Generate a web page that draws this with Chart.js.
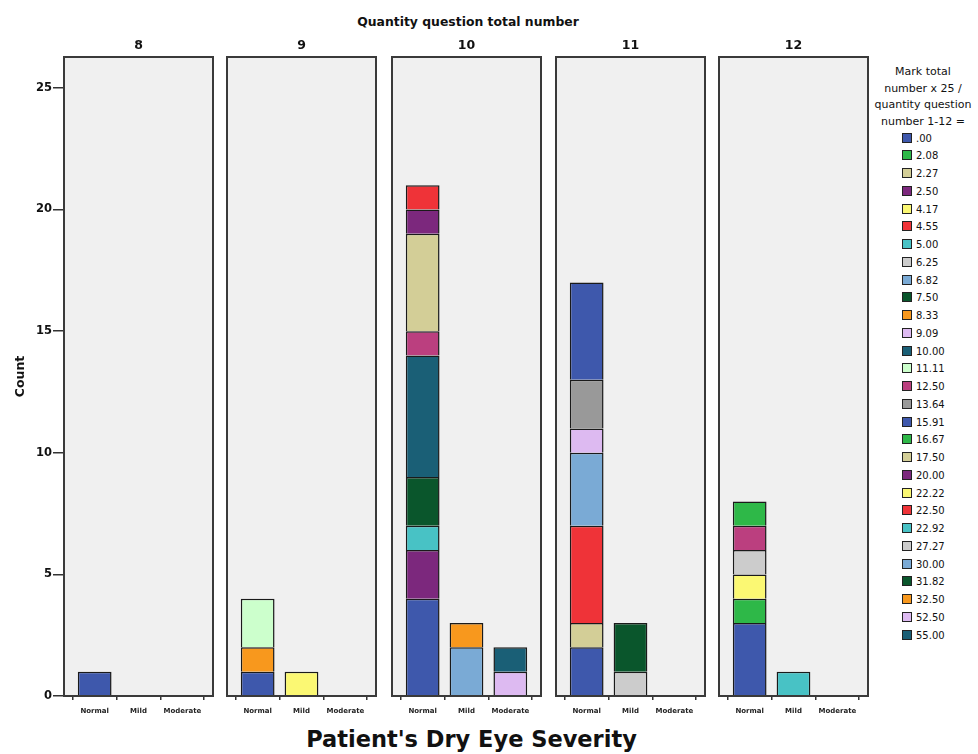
<!DOCTYPE html>
<html>
<head>
<meta charset="utf-8">
<script src="https://cdn.jsdelivr.net/npm/chart.js@4.4.0/dist/chart.umd.min.js"></script>
<style>
  body { margin:0; background:#fff; width:978px; height:754px; position:relative; overflow:hidden; font-family:'DejaVu Sans', sans-serif; color:#111; }
  .panel { position:absolute; top:30px; }
  #mainTitle { position:absolute; left:0; width:936px; top:14px; text-align:center; font-weight:bold; font-size:12.4px; }
  #xTitle { position:absolute; left:0; width:943px; top:726px; text-align:center; font-weight:bold; font-size:22.5px; }
  #legTitle { position:absolute; left:868px; width:110px; top:64px; text-align:center; font-size:11px; line-height:16.5px; }
  #legend { position:absolute; left:902px; top:129.6px; font-size:10px; line-height:17.76px; }
  #legend div { height:17.76px; white-space:nowrap; }
  #legend span.box { display:inline-block; width:8px; height:8px; border:1px solid #222; vertical-align:middle; margin-right:4px; position:relative; top:-1px; }
</style>
</head>
<body>
<div id="mainTitle">Quantity question total number</div>
<div id="legTitle">Mark total<br>number x 25 /<br>quantity question<br>number 1-12 =</div>
<div id="legend"></div>
<div id="xTitle">Patient's Dry Eye Severity</div>

<script>
// facets and categories
const questionTotals = [8, 9, 10, 11, 12];
const severity = ['Normal', 'Mild', 'Moderate'];
const yTicks = [0, 5, 10, 15, 20, 25];

// legend values and their colours
const markValues = ['.00','2.08','2.27','2.50','4.17','4.55','5.00','6.25','6.82','7.50','8.33','9.09','10.00','11.11',
  '12.50','13.64','15.91','16.67','17.50','20.00','22.22','22.50','22.92','27.27','30.00','31.82','32.50','52.50','55.00'];
const markColors = ['#3e58ac','#2eb848','#d3ce97','#7c287d','#fbf873','#ef3338','#48c2c5','#cccccc','#7aaad5','#0a562c',
  '#f8981d','#ddbaf1','#1a5f76','#ccffcc','#bb3f7f','#999999','#3e58ac','#2eb848','#d3ce97','#7c287d',
  '#fbf873','#ef3338','#48c2c5','#cccccc','#7aaad5','#0a562c','#f8981d','#ddbaf1','#1a5f76'];

// counts per panel: [mark value, Normal, Mild, Moderate]
const counts8 = [['.00',1,0,0]];
const counts9 = [['.00',1,0,0],['8.33',1,0,0],['11.11',2,0,0],['22.22',0,1,0]];
const counts10 = [['.00',4,0,0],['2.50',2,0,0],['5.00',1,0,0],['7.50',2,0,0],['10.00',5,0,0],['12.50',1,0,0],
  ['17.50',4,0,0],['20.00',1,0,0],['22.50',1,0,0],['30.00',0,2,0],['32.50',0,1,0],['52.50',0,0,1],['55.00',0,0,1]];
const counts11 = [['.00',2,0,0],['2.27',1,0,0],['4.55',4,0,0],['6.82',3,0,0],['9.09',1,0,0],['13.64',2,0,0],
  ['15.91',4,0,0],['27.27',0,1,0],['31.82',0,2,0]];
const counts12 = [['.00',3,0,0],['2.08',1,0,0],['4.17',1,0,0],['6.25',1,0,0],['12.50',1,0,0],['16.67',1,0,0],['22.92',0,1,0]];
const panelCounts = [counts8, counts9, counts10, counts11, counts12];

Chart.defaults.font.family = "'DejaVu Sans', sans-serif";
Chart.defaults.color = '#111';

const panelLefts = [64, 227, 392, 556, 719];
const panelW = 149;
const axisW = 64;

// grey panel with dark frame
const panelBox = {
  id: 'panelBox',
  beforeDraw(chart) {
    const a = chart.chartArea, ctx = chart.ctx;
    ctx.save();
    ctx.fillStyle = '#f0f0f0';
    ctx.fillRect(a.left, a.top, a.width, a.height);
    ctx.restore();
  },
  afterDatasetsDraw(chart) {
    const a = chart.chartArea, ctx = chart.ctx;
    ctx.save();
    ctx.strokeStyle = '#3a3a3a';
    ctx.lineWidth = 2;
    ctx.strokeRect(a.left, a.top, a.width, a.height);
    ctx.restore();
  }
};

function buildDatasets(rows) {
  const sets = [];
  markValues.forEach((m, k) => {
    const row = rows.find(r => r[0] === m);
    if (!row) return;
    const pts = [];
    for (let c = 0; c < severity.length; c++) {
      if (row[c + 1] > 0) pts.push({x: c, y: row[c + 1]});
    }
    sets.push({
      label: m, data: pts,
      backgroundColor: markColors[k],
      borderColor: '#1a1a1a', borderWidth: 1.5,
      barPercentage: 0.77, categoryPercentage: 1
    });
  });
  return sets;
}

questionTotals.forEach((q, i) => {
  const first = i === 0;
  const div = document.createElement('div');
  div.className = 'panel';
  const left = first ? 0 : panelLefts[i] - 2;
  const w = first ? panelLefts[0] + panelW + 2 : panelW + 4;
  div.style.left = left + 'px';
  const cv = document.createElement('canvas');
  cv.width = w; cv.height = 690;
  div.appendChild(cv);
  document.body.appendChild(div);

  new Chart(cv, {
    type: 'bar',
    data: { datasets: buildDatasets(panelCounts[i]) },
    plugins: [panelBox],
    options: {
      responsive: false,
      animation: false,
      layout: { padding: { left: first ? 0 : 2, right: 2, top: 0, bottom: 0 } },
      plugins: {
        legend: { display: false },
        tooltip: { enabled: false },
        title: {
          display: true, text: String(q), fullSize: false,
          font: { size: 12.5, weight: 'bold' }, color: '#111',
          padding: { top: 8.5, bottom: 3.5 }
        }
      },
      scales: {
        x: {
          type: 'linear', stacked: true, offset: false, min: -0.7, max: 2.7,
          afterBuildTicks: s => { s.ticks = severity.map((_, k) => ({value: k})); },
          ticks: { callback: v => severity[v], autoSkip: false, maxRotation: 0, padding: 7,
                   font: { size: 7, weight: 'bold' }, color: '#222' },
          grid: { drawOnChartArea: false, tickLength: 4, color: '#333', lineWidth: 1.5 },
          border: { display: false },
          afterFit: s => { s.height = 24; }
        },
        y: {
          stacked: true, min: 0, max: 26.27, display: first,
          afterBuildTicks: s => { s.ticks = yTicks.map(v => ({value: v})); },
          ticks: { padding: 1, font: { size: 11.5, weight: 'bold' }, color: '#111' },
          grid: { drawOnChartArea: false, tickLength: 11, color: '#333', lineWidth: 1.5 },
          border: { display: false },
          title: { display: true, text: 'Count', font: { size: 12.5, weight: 'bold' }, color: '#111', padding: 13 },
          afterFit: s => { s.width = first ? axisW : 0; }
        }
      }
    }
  });
});

// legend
const leg = document.getElementById('legend');
markValues.forEach((m, k) => {
  const row = document.createElement('div');
  row.innerHTML = '<span class="box" style="background:' + markColors[k] + '"></span>' + m;
  leg.appendChild(row);
});
</script>
</body>
</html>
